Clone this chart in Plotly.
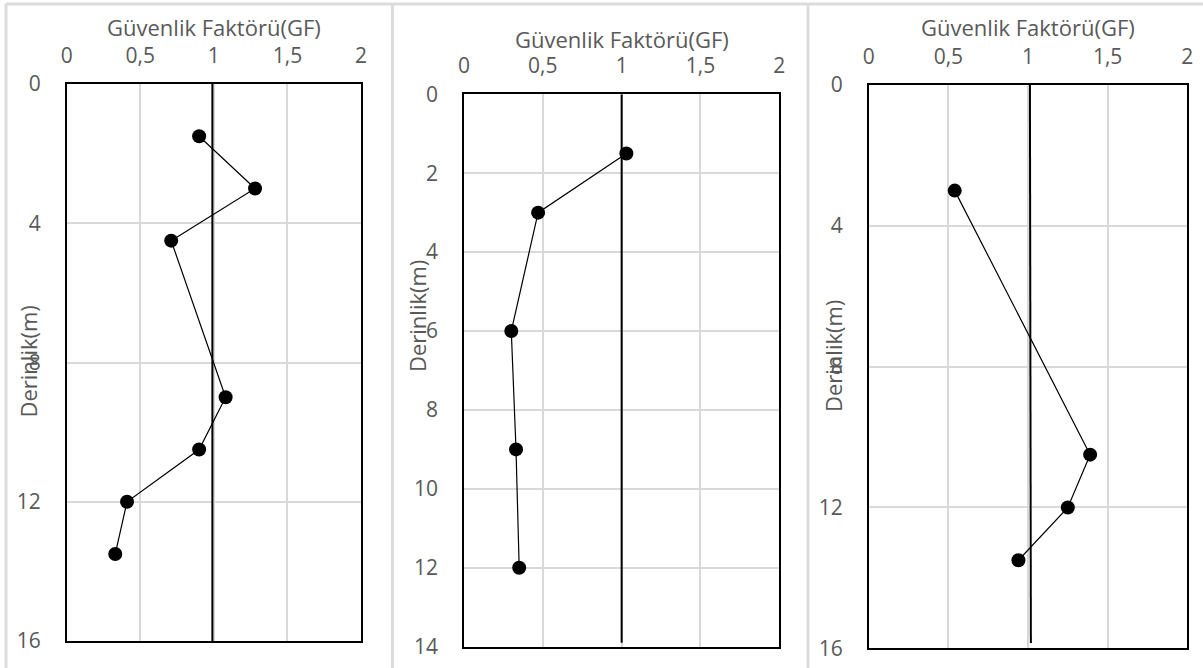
import plotly.graph_objects as go

W, H = 1203, 668

# ---- data ----
depth1 = [1.5, 3, 4.5, 9, 10.5, 12, 13.5]
gf1 = [0.90, 1.28, 0.71, 1.08, 0.90, 0.41, 0.33]
depth2 = [1.5, 3, 6, 9, 12]
gf2 = [1.03, 0.47, 0.30, 0.33, 0.35]
depth3 = [3, 10.5, 12, 13.5]
gf3 = [0.54, 1.39, 1.25, 0.94]

ref1_x, ref1_y = [0.99, 0.99], [0, 16]
ref2_x, ref2_y = [1.0, 1.0], [0, 13.9]
ref3_x, ref3_y = [1.012, 1.018], [0, 15.85]

x_tickvals = [0, 0.5, 1, 1.5, 2]
x_ticktext = ["0", "0,5", "1", "1,5", "2"]
y1_ticks = [0, 4, 8, 12, 16]
y2_ticks = [0, 2, 4, 6, 8, 10, 12, 14]
y3_ticks = [0, 4, 8, 12, 16]

x_title = "Güvenlik Faktörü(GF)"
y_title = "Derinlik(m)"

FONT = "Open Sans"
TXT = "#595959"
GRID = "#d9d9d9"
TICK_SIZE = 21
TITLE_SIZE = 22


def px(x):
    return x / W


def py(y):
    return 1 - y / H


fig = go.Figure()

panels = [
    # (xs, ys, refx, refy, yticks, ymax, left, right, top, bottom, title_y, ytitle_x, ytitle_y)
    (gf1, depth1, ref1_x, ref1_y, y1_ticks, 16, 66.7, 361, 84, 641, 27, 27.5, 362),
    (gf2, depth2, ref2_x, ref2_y, y2_ticks, 14, 464, 779.3, 94.3, 646.7, 39, 417, 316),
    (gf3, depth3, ref3_x, ref3_y, y3_ticks, 16, 868.7, 1187.3, 85, 648.3, 27, 833, 356),
]

layout = dict(
    width=W, height=H,
    margin=dict(l=0, r=0, t=0, b=0, autoexpand=False),
    paper_bgcolor="white", plot_bgcolor="white",
    showlegend=False,
    font=dict(family=FONT, color=TXT, size=TICK_SIZE),
)

annotations = []
shapes = []

for i, (xs, ys, rx, ry, yt, ymax, L, R, T, B, ty, ytx, yty) in enumerate(panels, start=1):
    sx = "" if i == 1 else str(i)
    fig.add_trace(go.Scatter(
        x=rx, y=ry, mode="lines",
        line=dict(color="black", width=2),
        xaxis="x" + sx, yaxis="y" + sx, hoverinfo="skip",
    ))
    fig.add_trace(go.Scatter(
        x=xs, y=ys, mode="lines+markers",
        line=dict(color="black", width=1.2),
        marker=dict(color="black", size=14),
        xaxis="x" + sx, yaxis="y" + sx,
    ))
    layout["xaxis" + sx] = dict(
        domain=[px(L), px(R)], anchor="y" + sx, side="top",
        range=[0, 2], tickvals=x_tickvals, ticktext=x_ticktext,
        showgrid=True, gridcolor=GRID, gridwidth=1.5,
        showline=True, linecolor="black", linewidth=1.5, mirror=True,
        ticks="", ticklabelstandoff=11, zeroline=False, automargin=False,
        tickfont=dict(family=FONT, size=TICK_SIZE, color=TXT),
    )
    layout["yaxis" + sx] = dict(
        domain=[py(B), py(T)], anchor="x" + sx,
        range=[ymax, 0], tickvals=yt,
        showgrid=True, gridcolor=GRID, gridwidth=1.5,
        showline=True, linecolor="black", linewidth=1.5, mirror=True,
        ticks="", ticklabelstandoff=20, zeroline=False, automargin=False,
        tickfont=dict(family=FONT, size=TICK_SIZE, color=TXT),
    )
    annotations.append(dict(
        text=x_title, x=px((L + R) / 2), y=py(ty), xref="paper", yref="paper",
        showarrow=False, xanchor="center", yanchor="middle",
        font=dict(family=FONT, size=TITLE_SIZE, color=TXT),
    ))
    annotations.append(dict(
        text=y_title, x=px(ytx), y=py(yty), xref="paper", yref="paper",
        showarrow=False, xanchor="center", yanchor="middle", textangle=-90,
        font=dict(family=FONT, size=TITLE_SIZE, color=TXT),
    ))

# chart-area borders (light gray frames)
border = dict(color="#dcdcdc", width=3)
shapes.append(dict(type="line", xref="paper", yref="paper", x0=px(6), x1=px(1203), y0=py(4), y1=py(4), line=border))
for xv in [6, 392.5, 808]:
    shapes.append(dict(type="line", xref="paper", yref="paper", x0=px(xv), x1=px(xv), y0=py(4), y1=0, line=border))

layout["annotations"] = annotations
layout["shapes"] = shapes
fig.update_layout(**layout)

fig.write_html("out.html")
